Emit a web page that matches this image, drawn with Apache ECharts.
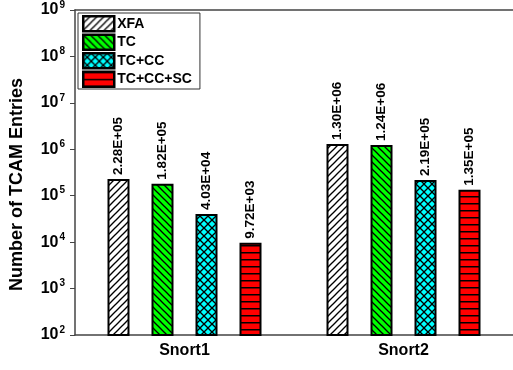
<!DOCTYPE html>
<html><head><meta charset="utf-8">
<script src="https://cdn.jsdelivr.net/npm/echarts@6/dist/echarts.min.js"></script>
<style>html,body{margin:0;padding:0;background:#fff}#c{width:513px;height:370px}</style>
</head><body><div id="c"></div>
<script>
const categories = ['Snort1', 'Snort2'];
const seriesNames = ['XFA', 'TC', 'TC+CC', 'TC+CC+SC'];
const xfa = [2.28e5, 1.30e6];
const tc = [1.82e5, 1.24e6];
const tccc = [4.03e4, 2.19e5];
const tcccsc = [9.72e3, 1.35e5];
const labels = [['2.28E+05', '1.30E+06'], ['1.82E+05', '1.24E+06'], ['4.03E+04', '2.19E+05'], ['9.72E+03', '1.35E+05']];

function mk(w, h, bg, draw) {
  const c = document.createElement('canvas'); c.width = w; c.height = h;
  const g = c.getContext('2d'); g.fillStyle = bg; g.fillRect(0, 0, w, h);
  g.strokeStyle = '#000'; g.lineWidth = 1.3; draw(g, w, h); return c;
}
function fwd(g, s) { [[0, s, s, 0], [-2, 2, 2, -2], [s - 2, s + 2, s + 2, s - 2]].forEach(l => { g.beginPath(); g.moveTo(l[0], l[1]); g.lineTo(l[2], l[3]); g.stroke(); }); }
function back(g, s) { [[0, 0, s, s], [-2, s - 2, 2, s + 2], [s - 2, -2, s + 2, 2]].forEach(l => { g.beginPath(); g.moveTo(l[0], l[1]); g.lineTo(l[2], l[3]); g.stroke(); }); }
const pXfa = mk(7, 7, '#fff', (g, w) => fwd(g, w));
const pTc = mk(7, 7, '#00ff00', (g, w) => back(g, w));
const pCc = mk(8, 8, '#00ffff', (g, w) => { fwd(g, w); back(g, w); });
const pSc = mk(7, 7, '#ff0000', (g, w, h) => { g.lineWidth = 1.5; g.beginPath(); g.moveTo(0, 0.75); g.lineTo(w, 0.75); g.stroke(); });
const pats = [pXfa, pTc, pCc, pSc];
const datas = [xfa, tc, tccc, tcccsc];

const chart = echarts.init(document.getElementById('c'));
const font = 'Liberation Sans, Arial, sans-serif';
chart.setOption({
  animation: false,
  textStyle: { fontFamily: font },
  grid: { left: 71, right: -1, top: 8, bottom: 35 },
  legend: {
    orient: 'vertical', left: 78, top: 13, itemWidth: 31, itemHeight: 15, itemGap: 1,
    icon: 'rect',
    padding: [2, 8, 1, 4], borderColor: '#333', borderWidth: 1, backgroundColor: '#fff',
    textStyle: { fontSize: 14, lineHeight: 15, height: 15, fontWeight: 'bold', color: '#000', fontFamily: font, padding: [0, 0, 0, -2] },
    itemStyle: { borderWidth: 2.5, borderColor: '#000' },
    data: seriesNames
  },
  xAxis: [{
    type: 'category', data: categories,
    axisLine: { lineStyle: { color: '#444', width: 1.5 } },
    axisTick: { alignWithLabel: true, length: 5, lineStyle: { color: '#444' } },
    axisLabel: { fontSize: 16, fontWeight: 'bold', color: '#000', margin: 8 }
  }, {
    type: 'category', data: categories, position: 'top',
    axisLine: { lineStyle: { color: '#444', width: 1.5 } },
    axisTick: { inside: true, alignWithLabel: true, length: 4, lineStyle: { color: '#444' } },
    axisLabel: { show: false }
  }],
  yAxis: {
    type: 'log', logBase: 10, min: 100, max: 1e9,
    name: 'Number of TCAM Entries', nameLocation: 'middle', nameGap: 49,
    nameTextStyle: { fontSize: 18, fontWeight: 'bold', color: '#000', padding: [0, 24, 0, 0] },
    axisLine: { show: true, lineStyle: { color: '#444', width: 1.5 } },
    axisTick: { show: true, length: 5, lineStyle: { color: '#444' } },
    splitLine: { show: false },
    axisLabel: {
      margin: 10,
      formatter: v => '{b|10}{s|' + Math.round(Math.log10(v)) + '}',
      rich: {
        b: { fontSize: 16, fontWeight: 'bold', color: '#000', fontFamily: font },
        s: { fontSize: 10, fontWeight: 'bold', color: '#000', fontFamily: font, verticalAlign: 'top', padding: [0, 0, 10, 1] }
      }
    }
  },
  series: seriesNames.map((n, i) => ({
    name: n, type: 'bar', data: datas[i], barWidth: 22, barGap: '100%',
    itemStyle: { color: { image: pats[i], repeat: 'repeat' }, borderColor: '#000', borderWidth: 2 },
    label: {
      show: true, position: 'top', rotate: 90, align: 'left', verticalAlign: 'middle', distance: 4,
      fontSize: 13.5, fontWeight: 'bold', color: '#000', fontFamily: font,
      formatter: p => labels[i][p.dataIndex]
    }
  }))
});
</script></body></html>
